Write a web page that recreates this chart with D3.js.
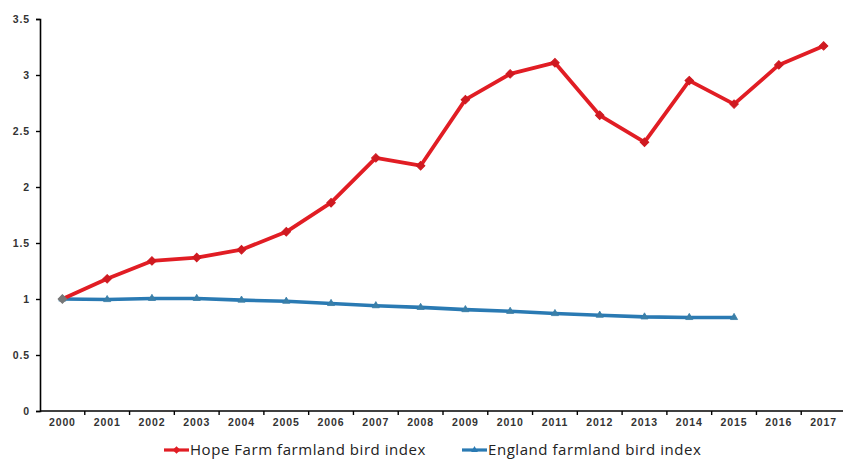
<!DOCTYPE html>
<html>
<head>
<meta charset="utf-8">
<script src="https://cdn.jsdelivr.net/npm/d3@7/dist/d3.min.js"></script>
<style>
  html, body { margin: 0; padding: 0; background: #fff; }
  svg { display: block; }
</style>
</head>
<body>
<svg id="chart" width="843" height="459"></svg>
<script>
// Farmland bird indices, 2000 = 1
const years = ["2000","2001","2002","2003","2004","2005","2006","2007","2008",
               "2009","2010","2011","2012","2013","2014","2015","2016","2017"];
const hopeFarm = [1.00, 1.18, 1.34, 1.37, 1.44, 1.60, 1.86, 2.26, 2.19,
                  2.78, 3.01, 3.11, 2.64, 2.40, 2.95, 2.74, 3.09, 3.26];
const england = [1.00, 0.995, 1.005, 1.005, 0.99, 0.98, 0.96, 0.94, 0.925,
                 0.905, 0.89, 0.87, 0.855, 0.84, 0.835, 0.835];
const yTicks = [0, 0.5, 1, 1.5, 2, 2.5, 3, 3.5];
const seriesNames = ["Hope Farm farmland bird index", "England farmland bird index"];

const svg = d3.select("#chart");
const plotLeft = 40, plotRight = 846, plotTop = 19, plotBottom = 411;

const x = d3.scaleBand().domain(years).range([plotLeft, plotRight]).padding(0);
const y = d3.scaleLinear().domain([0, 3.5]).range([plotBottom, plotTop]);
const cx = d => x(d) + x.bandwidth() / 2;

function styleTickText(g) {
  g.attr("font-family", "\"Liberation Sans\", Arial, sans-serif")
   .attr("font-size", 10.5)
   .attr("font-weight", "bold");
  g.selectAll(".tick text").attr("fill", "#333").attr("letter-spacing", 0.9);
}

// y axis
const yAxis = svg.append("g")
  .attr("transform", `translate(${plotLeft},0)`)
  .call(d3.axisLeft(y).tickValues(yTicks).tickFormat(d3.format("")).tickSize(4).tickPadding(6))
  .call(styleTickText);
yAxis.select(".domain").attr("stroke", "#000").attr("stroke-width", 1.6);
yAxis.selectAll(".tick line").attr("stroke", "#000").attr("stroke-width", 1.4);

// x axis: labels centred in bands, ticks on band edges
const xAxis = svg.append("g")
  .attr("transform", `translate(0,${plotBottom})`)
  .call(d3.axisBottom(x).tickSize(0).tickPadding(8))
  .call(styleTickText);
xAxis.select(".domain").attr("d", `M${plotLeft},0H${plotRight}`).attr("stroke", "#000").attr("stroke-width", 1.6);
xAxis.append("g").selectAll("line")
  .data(years.slice(1))
  .join("line")
  .attr("x1", d => x(d)).attr("x2", d => x(d))
  .attr("y1", 0).attr("y2", 4)
  .attr("stroke", "#000").attr("stroke-width", 1.4);

const line = d3.line().x((d, i) => cx(years[i])).y(d => y(d));

const red = "#e11d24", blue = "#2a7ab3";

// England series (drawn first, Hope Farm on top)
svg.append("path").datum(england)
  .attr("d", line).attr("fill", "none")
  .attr("stroke", blue).attr("stroke-width", 3.6).attr("stroke-linejoin", "round");
svg.append("g").selectAll("path")
  .data(england)
  .join("path")
  .attr("transform", (d, i) => `translate(${cx(years[i])},${y(d)})`)
  .attr("d", d3.symbol(d3.symbolTriangle, 22))
  .attr("fill", "#3a7fa8").attr("stroke", "#3a7fa8").attr("stroke-width", 0.8);

// Hope Farm series
svg.append("path").datum(hopeFarm)
  .attr("d", line).attr("fill", "none")
  .attr("stroke", red).attr("stroke-width", 3.8).attr("stroke-linejoin", "round");
svg.append("g").selectAll("path")
  .data(hopeFarm)
  .join("path")
  .attr("transform", (d, i) => `translate(${cx(years[i])},${y(d)}) rotate(45)`)
  .attr("d", d3.symbol(d3.symbolSquare, 36))
  .attr("fill", (d, i) => i === 0 ? "#777" : "#cf1a21")
  .attr("stroke", (d, i) => i === 0 ? "#777" : "#cf1a21");

// legend
const legend = svg.append("g").attr("font-family", "\"Open Sans\", sans-serif");
const legendItems = [
  { name: seriesNames[0], color: red, sym: d3.symbolSquare, size: 30, rot: 45, x0: 164 },
  { name: seriesNames[1], color: blue, sym: d3.symbolTriangle, size: 20, rot: 0, x0: 462 }
];
legendItems.forEach(it => {
  const g = legend.append("g").attr("transform", `translate(${it.x0},450)`);
  g.append("line").attr("x1", 0).attr("x2", 25).attr("y1", 0).attr("y2", 0)
    .attr("stroke", it.color).attr("stroke-width", 3.2);
  g.append("path").attr("transform", `translate(12.5,0) rotate(${it.rot})`)
    .attr("d", d3.symbol(it.sym, it.size)).attr("fill", it.color);
  g.append("text").attr("x", 26).attr("y", 5)
    .attr("font-size", 15).attr("letter-spacing", 0.55)
    .attr("fill", "#222").text(it.name);
});
</script>
</body>
</html>
